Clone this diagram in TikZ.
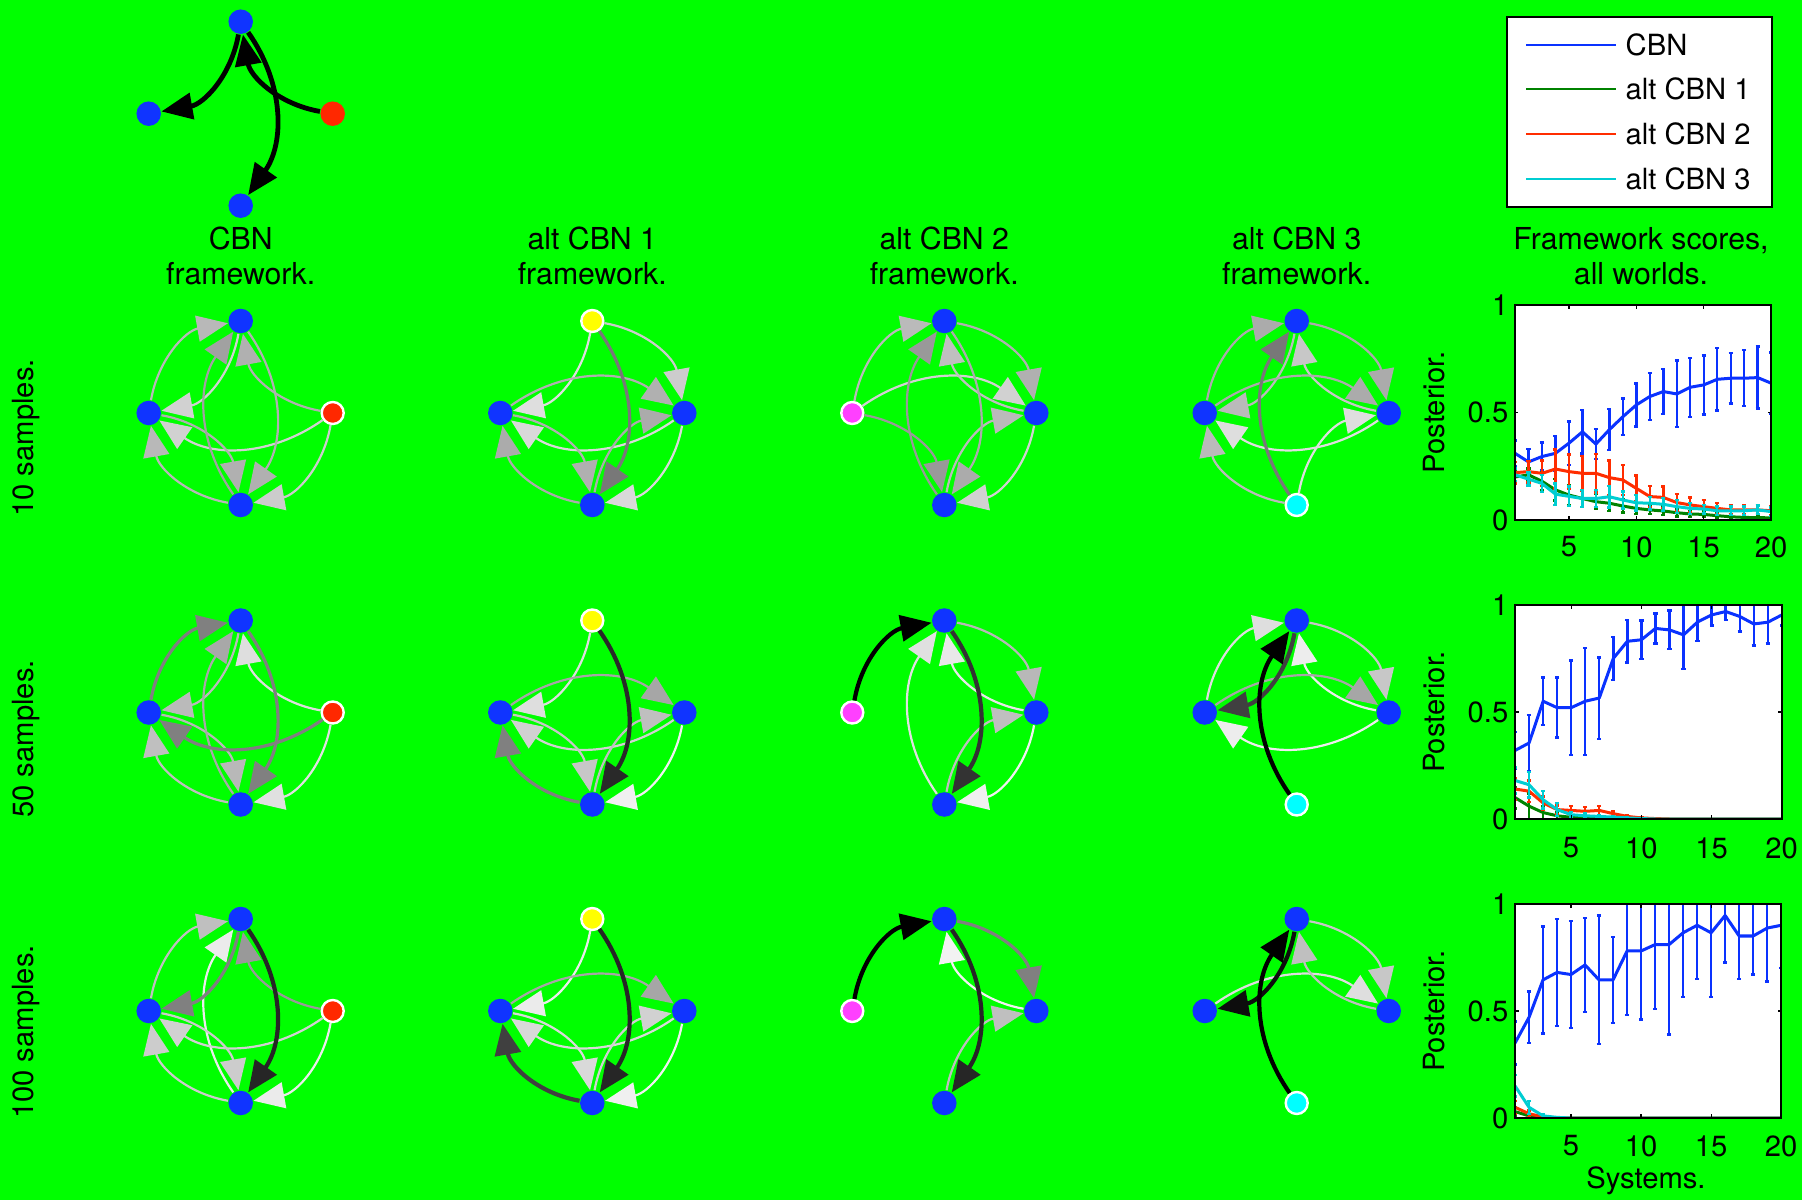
\documentclass[tikz,border=0pt]{standalone}
\usepackage{fontspec}
\setmainfont{TeX Gyre Heros}
\usetikzlibrary{arrows.meta}
\definecolor{bggreen}{RGB}{0,255,0}
\definecolor{nblue}{RGB}{16,52,255}
\definecolor{nred}{RGB}{255,40,0}
\definecolor{nyellow}{RGB}{255,255,0}
\definecolor{npink}{RGB}{255,64,255}
\definecolor{ncyan}{RGB}{0,255,255}
\definecolor{pblue}{RGB}{10,50,255}
\definecolor{pgreen}{RGB}{0,130,0}
\definecolor{pred}{RGB}{255,45,0}
\definecolor{pcyan}{RGB}{0,205,210}
\newcommand\lf{\fontsize{8.3}{9.5}\selectfont}
\newcommand\hf{\fontsize{8.6}{10.1}\selectfont}
\tikzset{
  bn/.style={circle,fill=nblue,inner sep=0pt,minimum size=0.245cm},
  sn/.style={circle,fill=#1,draw=white,line width=0.024cm,inner sep=0pt,minimum size=0.22cm},
  tn/.style={circle,fill=#1,inner sep=0pt,minimum size=0.245cm},
  edge/.style={bend left=35,-{Triangle[length=0.31cm,width=0.26cm]}},
  w1/.style={line width=0.022cm},
  w2/.style={line width=0.032cm},
  w3/.style={line width=0.042cm},
  w4/.style={line width=0.048cm},
  txt/.style={font=\lf,inner sep=0pt},
  head/.style={font=\hf,inner sep=0pt,align=center},
  mline/.style={line width=0.03cm,line join=round},
  ebar/.style={line width=0.024cm},
  axisbox/.style={line width=0.015cm,draw=black},
}
\newcommand\mkgraph[7]{%
  \node[#4] (#1T) at (#2,{#3-92}) {};
  \node[#5] (#1L) at ({#2-92},#3) {};
  \node[#6] (#1R) at ({#2+92},#3) {};
  \node[#7] (#1B) at (#2,{#3+92}) {};
}
\newcommand\ed[4]{\draw[edge,draw=black!#3,#4] (#1) to (#2);}
\newcommand\series[3]{%
  \draw[#1,mline] (#2) \foreach \x/\m/\e in {#3} { -- (\x,\m) };
  \foreach \x/\m/\e in {#3} {\draw[#1,ebar] (\x,{\m-\e}) -- (\x,{\m+\e}) ({\x-0.15},{\m-\e}) -- ({\x+0.15},{\m-\e}) ({\x-0.15},{\m+\e}) -- ({\x+0.15},{\m+\e});}
}
\newcommand\ticks{%
  \foreach \t in {5,10,15,20} {\draw[line width=0.012cm] (\t,0) -- ++(0,0.018) (\t,1) -- ++(0,-0.018);}
  \draw[line width=0.012cm] (1,0.5) -- ++(0.25,0) (20,0.5) -- ++(-0.25,0);
}
\begin{document}
\begin{tikzpicture}[x=0.01cm,y=-0.01cm]
\fill[bggreen] (0,0) rectangle (1802,1200);
\useasboundingbox (0,0) rectangle (1802,1200);

% ---------- top graph ----------
\mkgraph{g}{240.7}{113.7}{bn}{bn}{tn=nred}{bn}
\ed{gT}{gL}{100}{w4}
\ed{gR}{gT}{100}{w4}
\ed{gT}{gB}{100}{w4}

% ---------- headers ----------
\node[head] (h1) at (240.7,256) {CBN\\framework.};
\node[head] (h2) at (592.3,256) {alt CBN 1\\framework.};
\node[head] (h3) at (944.3,256) {alt CBN 2\\framework.};
\node[head] (h4) at (1296.7,256) {alt CBN 3\\framework.};
\node[head] (h5) at (1641,256) {Framework scores,\\all worlds.};

\node[txt,rotate=90] (r1) at (26,438) {10 samples.};
\node[txt,rotate=90] (r2) at (26,739) {50 samples.};
\node[txt,rotate=90] (r3) at (26,1032) {100 samples.};

% ---------- row 1 ----------
\mkgraph{a1}{240.7}{413}{bn}{bn}{sn=nred}{bn}
\ed{a1T}{a1L}{18}{w1}
\ed{a1R}{a1L}{18}{w1}
\ed{a1R}{a1B}{20}{w1}
\ed{a1L}{a1T}{28}{w1}
\ed{a1B}{a1L}{28}{w1}
\ed{a1R}{a1T}{31}{w1}
\ed{a1T}{a1B}{31}{w1}
\ed{a1L}{a1B}{31}{w1}
\ed{a1B}{a1T}{37}{w1}

\mkgraph{a2}{592.3}{413}{sn=nyellow}{bn}{bn}{bn}
\ed{a2T}{a2L}{13}{w1}
\ed{a2R}{a2L}{15}{w1}
\ed{a2R}{a2B}{15}{w1}
\ed{a2T}{a2R}{20}{w1}
\ed{a2L}{a2R}{31}{w1}
\ed{a2B}{a2R}{33}{w1}
\ed{a2L}{a2B}{31}{w1}
\ed{a2B}{a2L}{33}{w1}
\ed{a2T}{a2B}{53}{w2}

\mkgraph{a3}{944.3}{413}{bn}{sn=npink}{bn}{bn}
\ed{a3L}{a3R}{18}{w1}
\ed{a3R}{a3B}{18}{w1}
\ed{a3R}{a3T}{25}{w1}
\ed{a3L}{a3T}{27}{w1}
\ed{a3B}{a3R}{27}{w1}
\ed{a3T}{a3R}{31}{w1}
\ed{a3T}{a3B}{33}{w1}
\ed{a3B}{a3T}{40}{w1}
\ed{a3L}{a3B}{40}{w1}

\mkgraph{a4}{1296.7}{413}{bn}{bn}{bn}{sn=ncyan}
\ed{a4B}{a4R}{13}{w1}
\ed{a4R}{a4L}{13}{w1}
\ed{a4R}{a4T}{22}{w1}
\ed{a4T}{a4L}{27}{w1}
\ed{a4B}{a4L}{27}{w1}
\ed{a4L}{a4T}{33}{w1}
\ed{a4T}{a4R}{33}{w1}
\ed{a4L}{a4R}{33}{w1}
\ed{a4B}{a4T}{53}{w2}

% ---------- row 2 ----------
\mkgraph{b1}{240.7}{712.5}{bn}{bn}{sn=nred}{bn}
\ed{b1R}{b1B}{12}{w1}
\ed{b1R}{b1T}{13}{w1}
\ed{b1B}{b1L}{25}{w1}
\ed{b1T}{b1L}{27}{w1}
\ed{b1L}{b1B}{28}{w1}
\ed{b1B}{b1T}{34}{w1}
\ed{b1L}{b1T}{50}{w2}
\ed{b1T}{b1B}{50}{w2}
\ed{b1R}{b1L}{50}{w2}

\mkgraph{b2}{592.3}{712.5}{sn=nyellow}{bn}{bn}{bn}
\ed{b2R}{b2B}{6}{w1}
\ed{b2T}{b2L}{13}{w1}
\ed{b2R}{b2L}{18}{w1}
\ed{b2L}{b2B}{22}{w1}
\ed{b2B}{b2R}{25}{w1}
\ed{b2L}{b2R}{35}{w1}
\ed{b2B}{b2L}{50}{w2}
\ed{b2T}{b2B}{84}{w3}

\mkgraph{b3}{944.3}{712.5}{bn}{sn=npink}{bn}{bn}
\ed{b3R}{b3B}{6}{w1}
\ed{b3R}{b3T}{9}{w1}
\ed{b3B}{b3T}{12}{w1}
\ed{b3B}{b3R}{25}{w1}
\ed{b3T}{b3R}{28}{w1}
\ed{b3T}{b3B}{80}{w3}
\ed{b3L}{b3T}{100}{w3}

\mkgraph{b4}{1296.7}{712.5}{bn}{bn}{bn}{sn=ncyan}
\ed{b4R}{b4T}{7}{w1}
\ed{b4R}{b4L}{7}{w1}
\ed{b4L}{b4T}{13}{w1}
\ed{b4T}{b4R}{22}{w1}
\ed{b4L}{b4R}{35}{w1}
\ed{b4T}{b4L}{75}{w3}
\ed{b4B}{b4T}{100}{w3}

% ---------- row 3 ----------
\mkgraph{c1}{240.7}{1011}{bn}{bn}{sn=nred}{bn}
\ed{c1B}{c1T}{8}{w1}
\ed{c1R}{c1B}{8}{w1}
\ed{c1R}{c1L}{18}{w1}
\ed{c1B}{c1L}{20}{w1}
\ed{c1L}{c1B}{20}{w1}
\ed{c1L}{c1T}{25}{w1}
\ed{c1R}{c1T}{40}{w1}
\ed{c1T}{c1L}{50}{w2}
\ed{c1T}{c1B}{85}{w3}

\mkgraph{c2}{592.3}{1011}{sn=nyellow}{bn}{bn}{bn}
\ed{c2R}{c2B}{6}{w1}
\ed{c2T}{c2L}{8}{w1}
\ed{c2R}{c2L}{15}{w1}
\ed{c2L}{c2B}{15}{w1}
\ed{c2B}{c2R}{18}{w1}
\ed{c2L}{c2R}{35}{w1}
\ed{c2B}{c2L}{75}{w3}
\ed{c2T}{c2B}{85}{w3}

\mkgraph{c3}{944.3}{1011}{bn}{sn=npink}{bn}{bn}
\ed{c3R}{c3T}{5}{w1}
\ed{c3B}{c3R}{25}{w1}
\ed{c3T}{c3R}{50}{w2}
\ed{c3T}{c3B}{85}{w3}
\ed{c3L}{c3T}{100}{w3}

\mkgraph{c4}{1296.7}{1011}{bn}{bn}{bn}{sn=ncyan}
\ed{c4L}{c4R}{13}{w1}
\ed{c4T}{c4R}{22}{w1}
\ed{c4R}{c4T}{25}{w1}
\ed{c4T}{c4L}{95}{w3}
\ed{c4B}{c4T}{100}{w3}

% ---------- legend ----------
\node[draw=black,fill=white,line width=0.015cm,minimum width=2.65cm,minimum height=1.9cm,inner sep=0pt] (leg) at (1639.5,112) {};
\coordinate (l1a) at (1526,45); \coordinate (l1b) at (1616,45);
\coordinate (l2a) at (1526,89); \coordinate (l2b) at (1616,89);
\coordinate (l3a) at (1526,134); \coordinate (l3b) at (1616,134);
\coordinate (l4a) at (1526,179); \coordinate (l4b) at (1616,179);
\draw[pblue,line width=0.024cm] (l1a) -- (l1b);
\draw[pgreen,line width=0.024cm] (l2a) -- (l2b);
\draw[pred,line width=0.024cm] (l3a) -- (l3b);
\draw[pcyan,line width=0.024cm] (l4a) -- (l4b);
\node[txt,anchor=west] (lt1) at (1625,45) {CBN};
\node[txt,anchor=west] (lt2) at (1625,89) {alt CBN 1};
\node[txt,anchor=west] (lt3) at (1625,134) {alt CBN 2};
\node[txt,anchor=west] (lt4) at (1625,179) {alt CBN 3};

% ---------- plot 1 ----------
\begin{scope}[shift={(1501.526,520)},x=0.134737cm,y=2.15cm]
\fill[white] (1,0) rectangle (20,1);
\begin{scope}
\clip (1,0) rectangle (20,1);
\series{pblue}{1,0.31}{1/0.31/0.06, 2/0.27/0.06, 3/0.295/0.065, 4/0.31/0.08, 5/0.357/0.1, 6/0.41/0.1, 7/0.353/0.07, 8/0.42/0.095, 9/0.48/0.085, 10/0.535/0.1, 11/0.574/0.11, 12/0.597/0.105, 13/0.586/0.155, 14/0.617/0.137, 15/0.628/0.137, 16/0.654/0.145, 17/0.659/0.118, 18/0.659/0.13, 19/0.662/0.144, 20/0.636/0.143}
\series{pgreen}{1,0.2}{1/0.2/0.03, 2/0.21/0.03, 3/0.18/0.04, 4/0.14/0.05, 5/0.116/0.045, 6/0.1/0.04, 7/0.085/0.035, 8/0.078/0.035, 9/0.065/0.03, 10/0.054/0.025, 11/0.047/0.02, 12/0.042/0.02, 13/0.034/0.018, 14/0.028/0.015, 15/0.026/0.013, 16/0.02/0.012, 17/0.015/0.01, 18/0.012/0.01, 19/0.011/0.01, 20/0.01/0.01}
\series{pred}{1,0.22}{1/0.22/0.05, 2/0.225/0.05, 3/0.217/0.06, 4/0.237/0.09, 5/0.225/0.08, 6/0.217/0.08, 7/0.217/0.09, 8/0.197/0.08, 9/0.186/0.07, 10/0.147/0.06, 11/0.109/0.05, 12/0.105/0.05, 13/0.081/0.04, 14/0.07/0.035, 15/0.062/0.03, 16/0.054/0.025, 17/0.047/0.02, 18/0.047/0.02, 19/0.047/0.02, 20/0.043/0.02}
\series{pcyan}{1,0.21}{1/0.21/0.03, 2/0.19/0.03, 3/0.17/0.04, 4/0.12/0.05, 5/0.11/0.045, 6/0.1/0.04, 7/0.1/0.04, 8/0.108/0.05, 9/0.093/0.04, 10/0.08/0.035, 11/0.078/0.03, 12/0.073/0.03, 13/0.062/0.03, 14/0.054/0.025, 15/0.051/0.02, 16/0.043/0.02, 17/0.043/0.02, 18/0.043/0.02, 19/0.047/0.02, 20/0.039/0.02}
\end{scope}
\ticks
\draw[axisbox] (1,0) rectangle (20,1);
\end{scope}
\node[txt,anchor=east] (p1y1) at (1509,305) {1};
\node[txt,anchor=east] (p1y2) at (1509,412.5) {0.5};
\node[txt,anchor=east] (p1y3) at (1509,520) {0};
\node[txt] (p1x1) at (1568.9,547) {5};
\node[txt] (p1x2) at (1636.3,547) {10};
\node[txt] (p1x3) at (1703.6,547) {15};
\node[txt] (p1x4) at (1771,547) {20};
\node[txt,rotate=90] (p1l) at (1434,412.5) {Posterior.};

% ---------- plot 2 ----------
\begin{scope}[shift={(1500.96,819)},x=0.14037cm,y=2.14cm]
\fill[white] (1,0) rectangle (20,1);
\begin{scope}
\clip (1,0) rectangle (20,1);
\series{pblue}{1,0.32}{1/0.32/0.085, 2/0.355/0.13, 3/0.55/0.11, 4/0.52/0.14, 5/0.52/0.22, 6/0.55/0.25, 7/0.565/0.19, 8/0.75/0.1, 9/0.83/0.1, 10/0.837/0.09, 11/0.89/0.07, 12/0.883/0.09, 13/0.86/0.16, 14/0.92/0.09, 15/0.953/0.05, 16/0.969/0.04, 17/0.946/0.07, 18/0.911/0.1, 19/0.919/0.1, 20/0.953/0.05}
\series{pgreen}{1,0.1}{1/0.1/0.05, 2/0.06/0.06, 3/0.03/0.03, 4/0.015/0.015, 5/0.008/0.008, 6/0.005/0.005, 7/0.003/0.003, 8/0.002/0.002, 9/0.001/0.001, 10/0/0, 11/0/0, 12/0/0, 13/0/0, 14/0/0, 15/0/0, 16/0/0, 17/0/0, 18/0/0, 19/0/0, 20/0/0}
\series{pred}{1,0.14}{1/0.14/0.05, 2/0.13/0.05, 3/0.075/0.03, 4/0.044/0.02, 5/0.04/0.02, 6/0.036/0.02, 7/0.04/0.02, 8/0.025/0.012, 9/0.012/0.008, 10/0.005/0.004, 11/0.002/0.002, 12/0/0, 13/0/0, 14/0/0, 15/0/0, 16/0/0, 17/0/0, 18/0/0, 19/0/0, 20/0/0}
\series{pcyan}{1,0.18}{1/0.18/0.06, 2/0.16/0.06, 3/0.09/0.04, 4/0.044/0.03, 5/0.02/0.012, 6/0.015/0.01, 7/0.012/0.008, 8/0.009/0.006, 9/0.005/0.004, 10/0.002/0.002, 11/0/0, 12/0/0, 13/0/0, 14/0/0, 15/0/0, 16/0/0, 17/0/0, 18/0/0, 19/0/0, 20/0/0}
\end{scope}
\ticks
\draw[axisbox] (1,0) rectangle (20,1);
\end{scope}
\node[txt,anchor=east] (p2y1) at (1509,605) {1};
\node[txt,anchor=east] (p2y2) at (1509,712) {0.5};
\node[txt,anchor=east] (p2y3) at (1509,819) {0};
\node[txt] (p2x1) at (1571.1,848) {5};
\node[txt] (p2x2) at (1641.3,848) {10};
\node[txt] (p2x3) at (1711.5,848) {15};
\node[txt] (p2x4) at (1781.7,848) {20};
\node[txt,rotate=90] (p2l) at (1434,712) {Posterior.};

% ---------- plot 3 ----------
\begin{scope}[shift={(1501,1118)},x=0.14cm,y=2.14cm]
\fill[white] (1,0) rectangle (20,1);
\begin{scope}
\clip (1,0) rectangle (20,1);
\series{pblue}{1,0.35}{1/0.35/0.1, 2/0.47/0.12, 3/0.645/0.25, 4/0.68/0.25, 5/0.67/0.25, 6/0.715/0.22, 7/0.645/0.3, 8/0.645/0.2, 9/0.78/0.3, 10/0.78/0.32, 11/0.81/0.3, 12/0.81/0.42, 13/0.865/0.3, 14/0.9/0.25, 15/0.865/0.3, 16/0.946/0.22, 17/0.85/0.2, 18/0.85/0.18, 19/0.887/0.25, 20/0.9/0.2}
\series{pgreen}{1,0.03}{1/0.03/0.02, 2/0.01/0.01, 3/0.003/0.003, 4/0/0, 5/0/0, 6/0/0, 7/0/0, 8/0/0, 9/0/0, 10/0/0, 11/0/0, 12/0/0, 13/0/0, 14/0/0, 15/0/0, 16/0/0, 17/0/0, 18/0/0, 19/0/0, 20/0/0}
\series{pred}{1,0.05}{1/0.05/0.03, 2/0.02/0.015, 3/0.005/0.005, 4/0/0, 5/0/0, 6/0/0, 7/0/0, 8/0/0, 9/0/0, 10/0/0, 11/0/0, 12/0/0, 13/0/0, 14/0/0, 15/0/0, 16/0/0, 17/0/0, 18/0/0, 19/0/0, 20/0/0}
\series{pcyan}{1,0.15}{1/0.15/0.05, 2/0.05/0.03, 3/0.01/0.01, 4/0.003/0.003, 5/0/0, 6/0/0, 7/0/0, 8/0/0, 9/0/0, 10/0/0, 11/0/0, 12/0/0, 13/0/0, 14/0/0, 15/0/0, 16/0/0, 17/0/0, 18/0/0, 19/0/0, 20/0/0}
\end{scope}
\ticks
\draw[axisbox] (1,0) rectangle (20,1);
\end{scope}
\node[txt,anchor=east] (p3y1) at (1509,904) {1};
\node[txt,anchor=east] (p3y2) at (1509,1011) {0.5};
\node[txt,anchor=east] (p3y3) at (1509,1118) {0};
\node[txt] (p3x1) at (1571,1146) {5};
\node[txt] (p3x2) at (1641,1146) {10};
\node[txt] (p3x3) at (1711,1146) {15};
\node[txt] (p3x4) at (1781,1146) {20};
\node[txt,rotate=90] (p3l) at (1434,1011) {Posterior.};
\node[txt] (sys) at (1646,1181) {Systems.};
\end{tikzpicture}
\end{document}
